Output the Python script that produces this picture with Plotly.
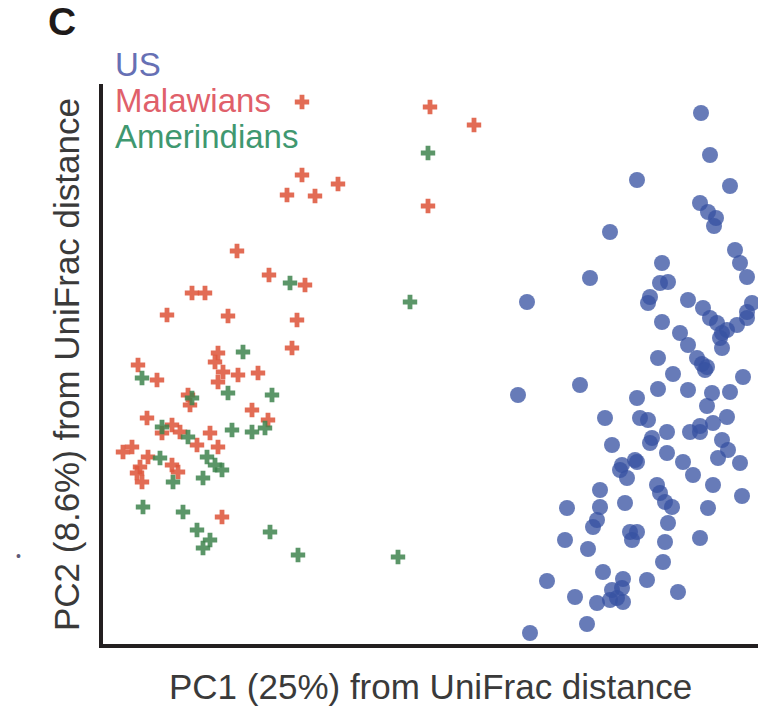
import numpy as np
import plotly.graph_objects as go

# PC scores (x1000, arbitrary units)
us_pc1 = [271, 280, 207, 300, 270, 278, 286, 284, 180, 305, 310, 317, 232, 160, 97,
          230, 238, 220, 218, 258, 273, 280, 287, 292, 292, 322, 317, 307, 232, 250,
          258, 267, 272, 275, 228, 243, 228, 258, 282, 300, 313, 207, 277, 88, 150,
          297, 283, 175, 210, 218, 237, 260, 270, 222, 292, 182, 298, 192, 205, 237,
          253, 288, 310, 263, 283, 197, 170, 227, 235, 242, 278, 312, 137, 170, 195,
          230, 163, 200, 207, 238, 135, 158, 235, 270, 202, 233, 117, 173, 193, 192,
          217, 145, 167, 193, 248, 157, 100, 182, 187, 167, 180,
          297, 290, 277, 220, 190, 207, 317, 270]
us_pc2 = [251, 209, 184, 178, 161, 152, 146, 138, 132, 114, 101, 87, 101, 86, 62,
          81, 82, 67, 61, 64, 56, 46, 41, 31, 16, 61, 46, 39, 42, 31,
          19, 6, 0, -6, 6, -10, -25, -26, -29, -28, -13, -34, -42, -31, -21,
          -53, -59, -54, -54, -56, -68, -68, -68, -74, -76, -81, -86, -101, -96, -89,
          -98, -94, -99, -111, -121, -114, -126, -121, -138, -143, -144, -132, -144, -143, -139,
          -129, -163, -168, -168, -159, -176, -185, -178, -174, -176, -198, -217, -208, -215, -224,
          -216, -233, -239, -238, -228, -260, -269, -226, -234, -156, -236,
          34, 26, -3, -79, -106, -98, 52, -62]

mw_pc1 = [-128, 0, 44, -2, -128, -92, -143, -115, -193, -161, -125, -238, -225, -263, -202,
          -133, -138, -212, -215, -292, -273, -207, -192, -172, -212, -242, -240, -178, -162,
          -283, -258, -250, -268, -220, -233, -212, -307, -298, -282, -290, -258, -252, -293,
          -288, -208]
mw_pc2 = [262, 257, 239, 158, 189, 180, 169, 168, 113, 89, 79, 71, 71, 49, 48,
          44, 16, 11, 2, -1, -16, -8, -11, -9, -18, -31, -41, -46, -56,
          -54, -61, -68, -69, -69, -81, -83, -88, -83, -93, -103, -101, -108, -109,
          -118, -153]

am_pc1 = [-2, -20, -140, -187, -288, -202, -158, -198, -178, -165, -242, -270, -223, -215,
          -208, -257, -227, -287, -247, -233, -160, -220, -227, -132, -32, -238, -268]
am_pc2 = [211, 62, 81, 12, -14, -29, -31, -66, -68, -64, -73, -94, -93, -101,
          -106, -118, -114, -143, -148, -166, -168, -176, -184, -191, -193, -34, -63]

groups = ["US", "Malawians", "Amerindians"]
x_title = "PC1 (25%) from UniFrac distance"
y_title = "PC2 (8.6%) from UniFrac distance"
panel = "C"

FONT = "Liberation Sans, Arial, sans-serif"

fig = go.Figure()
fig.add_trace(go.Scatter(
    x=np.array(us_pc1) / 1000, y=np.array(us_pc2) / 1000, mode="markers", name=groups[0],
    marker=dict(symbol="circle", size=16, color="rgba(55,82,162,0.76)", line=dict(width=0))))
fig.add_trace(go.Scatter(
    x=np.array(mw_pc1) / 1000, y=np.array(mw_pc2) / 1000, mode="markers", name=groups[1],
    marker=dict(symbol="cross", size=12, color="rgba(222,88,62,0.88)", line=dict(width=0))))
fig.add_trace(go.Scatter(
    x=np.array(am_pc1) / 1000, y=np.array(am_pc2) / 1000, mode="markers", name=groups[2],
    marker=dict(symbol="cross", size=12, color="rgba(62,132,78,0.85)", line=dict(width=0))))

L, R, T, B = 103, 0, 84, 63
W, H = 758, 707
pw, ph = W - L - R, H - T - B

def px(xp):
    return (xp - L) / pw

def py(yp):
    return (H - B - yp) / ph

ann = []
legend_colors = ["#6670b4", "#e0606a", "#3f9870"]
legend_y = [65, 100, 136]
for g, c, yy in zip(groups, legend_colors, legend_y):
    ann.append(dict(text=g, xref="paper", yref="paper", x=px(113), y=py(yy),
                    xanchor="left", yanchor="middle", showarrow=False,
                    font=dict(family=FONT, size=33, color=c)))
ann.append(dict(text=x_title, xref="paper", yref="paper", x=px(430), y=py(686),
                xanchor="center", yanchor="middle", showarrow=False,
                font=dict(family=FONT, size=35, color="#3a3a3a")))
ann.append(dict(text=y_title, xref="paper", yref="paper", x=px(66), y=py(365),
                xanchor="center", yanchor="middle", showarrow=False, textangle=-90,
                font=dict(family=FONT, size=35, color="#3a3a3a")))
ann.append(dict(text="<b>" + panel + "</b>", xref="paper", yref="paper", x=px(62), y=py(22),
                xanchor="center", yanchor="middle", showarrow=False,
                font=dict(family=FONT, size=39, color="#1e1a1a")))
ann.append(dict(text="•", xref="paper", yref="paper", x=px(18), y=py(556),
                xanchor="center", yanchor="middle", showarrow=False,
                font=dict(family=FONT, size=14, color="#5f5a78")))

fig.update_layout(
    width=W, height=H, margin=dict(l=L, r=R, t=T, b=B),
    paper_bgcolor="white", plot_bgcolor="white", showlegend=False,
    annotations=ann,
    xaxis=dict(range=[-0.327, 0.328], showgrid=False, zeroline=False, showticklabels=False,
               ticks="", showline=True, linewidth=4, linecolor="#231f20"),
    yaxis=dict(range=[-0.280, 0.280], showgrid=False, zeroline=False, showticklabels=False,
               ticks="", showline=True, linewidth=4, linecolor="#231f20"),
)

fig.write_html("out.html")
